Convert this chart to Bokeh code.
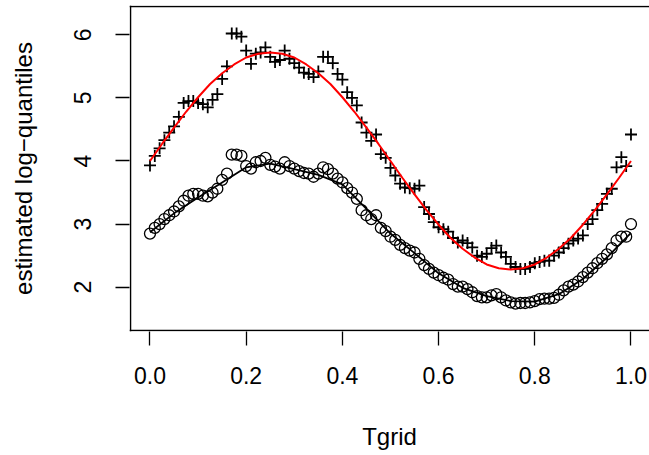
from bokeh.plotting import figure
from bokeh.models import Range1d, FixedTicker, PrintfTickFormatter, Span
from bokeh.embed import file_html
from bokeh.resources import INLINE

# Tgrid: 101 equally spaced grid points 0.00 .. 1.00
tgrid = [round(i * 0.01, 2) for i in range(101)]

# '+' series (upper estimated log-quantiles)
plus_q = [3.93, 4.08, 4.20, 4.33, 4.45, 4.55, 4.70, 4.92, 4.95, 4.95,
          4.92, 4.90, 4.85, 4.97, 5.06, 5.30, 5.50, 6.02, 6.02, 5.97,
          5.75, 5.54, 5.70, 5.72, 5.80, 5.65, 5.57, 5.60, 5.75, 5.62,
          5.55, 5.48, 5.40, 5.38, 5.33, 5.42, 5.65, 5.65, 5.55, 5.38,
          5.29, 5.09, 5.00, 4.88, 4.61, 4.45, 4.32, 4.42, 4.11, 4.05,
          3.89, 3.77, 3.64, 3.58, 3.57, 3.56, 3.61, 3.27, 3.16, 3.03,
          2.95, 2.92, 2.88, 2.78, 2.71, 2.74, 2.70, 2.63, 2.50, 2.48,
          2.53, 2.62, 2.66, 2.55, 2.48, 2.37, 2.32, 2.29, 2.29, 2.32,
          2.38, 2.40, 2.42, 2.42, 2.50, 2.55, 2.62, 2.69, 2.74, 2.77,
          2.82, 3.00, 3.08, 3.22, 3.32, 3.48, 3.56, 3.90, 4.06, 3.92,
          4.42]

# 'o' series (lower estimated log-quantiles)
circ_q = [2.85, 2.94, 3.00, 3.08, 3.14, 3.20, 3.28, 3.37, 3.45, 3.48,
          3.48, 3.45, 3.44, 3.50, 3.56, 3.70, 3.80, 4.10, 4.10, 4.08,
          3.92, 3.88, 3.98, 4.00, 4.05, 3.94, 3.91, 3.88, 3.98, 3.92,
          3.88, 3.84, 3.81, 3.80, 3.75, 3.80, 3.90, 3.87, 3.80, 3.72,
          3.66, 3.57, 3.50, 3.40, 3.22, 3.14, 3.08, 3.14, 2.94, 2.89,
          2.80, 2.75, 2.67, 2.62, 2.58, 2.55, 2.45, 2.35, 2.29, 2.23,
          2.19, 2.15, 2.12, 2.05, 2.01, 2.01, 1.97, 1.92, 1.86, 1.84,
          1.84, 1.87, 1.89, 1.84, 1.79, 1.76, 1.74, 1.75, 1.75, 1.76,
          1.78, 1.81, 1.82, 1.82, 1.83, 1.88, 1.95, 2.01, 2.04, 2.09,
          2.16, 2.23, 2.30, 2.38, 2.45, 2.52, 2.62, 2.74, 2.80, 2.80,
          3.00]

# black smooth curve through the circles
black_x = [round(i * 0.05, 2) for i in range(21)]
black_fit = [2.87, 3.17, 3.42, 3.66, 3.90, 3.96, 3.87, 3.78, 3.63, 3.24,
             2.85, 2.54, 2.22, 1.99, 1.86, 1.78, 1.77, 1.89, 2.13, 2.47,
             2.86]

# red smooth curve through the pluses
red_x = [round(i * 0.025, 3) for i in range(41)]
red_fit = [4.00, 4.27, 4.53, 4.78, 5.01, 5.22, 5.39, 5.53, 5.64, 5.70,
           5.72, 5.70, 5.64, 5.53, 5.39, 5.22, 5.01, 4.78, 4.53, 4.27,
           4.00, 3.73, 3.47, 3.22, 2.99, 2.78, 2.61, 2.47, 2.36, 2.30,
           2.28, 2.30, 2.36, 2.47, 2.61, 2.78, 2.99, 3.22, 3.47, 3.73,
           4.00]

x_ticks = [0.0, 0.2, 0.4, 0.6, 0.8, 1.0]
y_ticks = [2, 3, 4, 5, 6]

FONT = "Liberation Sans"
# plotting region limits (R-style box) and the slightly larger drawing frame
BOX_X0, BOX_Y0, BOX_Y1 = -0.0405, 1.314, 6.448
X0, X1 = -0.0426, 1.0385
Y0, Y1 = 1.298, 6.464

p = figure(width=649, height=455, output_backend="svg", toolbar_location=None,
           x_range=Range1d(X0, X1), y_range=Range1d(Y0, Y1),
           min_border_left=129, min_border_right=0, min_border_top=5,
           min_border_bottom=124)
p.xgrid.visible = False
p.ygrid.visible = False
p.outline_line_color = None
p.background_fill_color = "white"
p.border_fill_color = "white"

# plot box (left, top, bottom edges; right edge lies beyond the picture)
p.add_layout(Span(location=BOX_X0, dimension="height", line_color="black", line_width=1.5))
p.add_layout(Span(location=BOX_Y1, dimension="width", line_color="black", line_width=1.5))
p.add_layout(Span(location=BOX_Y0, dimension="width", line_color="black", line_width=1.5))

for ax in (p.xaxis[0], p.yaxis[0]):
    ax.axis_line_color = None
    ax.major_tick_line_color = "black"
    ax.major_tick_line_width = 1.3
    ax.major_tick_in = 0
    ax.major_tick_out = 14
    ax.minor_tick_line_color = None
    ax.major_label_text_font = FONT
    ax.major_label_text_font_size = "23px"
    ax.major_label_text_color = "black"
    ax.axis_label_text_font = FONT
    ax.axis_label_text_font_size = "24px"
    ax.axis_label_text_font_style = "normal"
    ax.axis_label_text_color = "black"

p.xaxis.ticker = FixedTicker(ticks=x_ticks)
p.xaxis.formatter = PrintfTickFormatter(format="%.1f")
p.xaxis.axis_label = "Tgrid"
p.xaxis.major_label_standoff = 21
p.xaxis.axis_label_standoff = 36

p.yaxis.ticker = FixedTicker(ticks=y_ticks)
p.yaxis.major_label_orientation = "vertical"
p.yaxis.axis_label = "estimated log\u2212quantiles"
p.yaxis.major_label_standoff = 24
p.yaxis.axis_label_standoff = 35

p.scatter(tgrid, plus_q, marker="cross", size=12, line_color="black",
          line_width=1.8)
p.scatter(tgrid, circ_q, marker="circle", size=11, fill_color=None,
          line_color="black", line_width=1.3)
p.line(black_x, black_fit, line_color="black", line_width=1.8)
p.line(red_x, red_fit, line_color="red", line_width=2)

open("out.html", "w").write(file_html(p, INLINE))
